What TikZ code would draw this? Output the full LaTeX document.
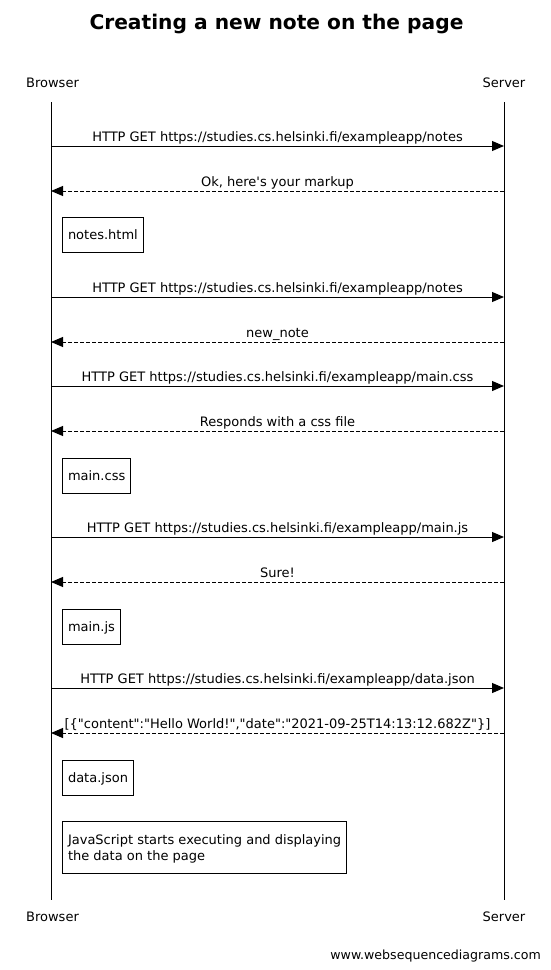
\documentclass[tikz,border=0pt]{standalone}
\usepackage{fontspec}
\setmainfont{DejaVu Sans}
\usetikzlibrary{arrows.meta}
\tikzset{
  lbl/.style={font=\fontsize{13}{16}\selectfont},
  actor/.style={lbl,anchor=base},
  msgtext/.style={lbl,anchor=base,midway,yshift=4.5pt,inner sep=0pt},
  lifeline/.style={line width=1pt},
  call/.style={line width=1pt,-{Triangle[length=12pt,width=10pt]}},
  reply/.style={call,dash pattern=on 4pt off 2pt},
  notebox/.style={lbl,draw,line width=1pt,anchor=north west,align=left,inner xsep=5.5pt,inner ysep=12.75pt,text height=9.5pt,text depth=0pt}
}

\begin{document}
\begin{tikzpicture}[x=1pt,y=-1pt]
  \useasboundingbox (0,0) rectangle (550,970);
  \node[anchor=base,font=\bfseries\fontsize{20.2}{24}\selectfont] (title) at (276.5,29.5) {Creating a new note on the page};
  \node[actor] (browsertop) at (52.5,87.5) {Browser};
  \node[actor] (servertop) at (504,87.5) {Server};
  \node[actor] (browserbot) at (52.5,921.5) {Browser};
  \node[actor] (serverbot) at (504,921.5) {Server};
  \coordinate (browserstart) at (51,102);
  \coordinate (browserend) at (51,900);
  \coordinate (serverstart) at (504,102);
  \coordinate (serverend) at (504,900);
  \draw[lifeline] (browserstart) -- (browserend);
  \draw[lifeline] (serverstart) -- (serverend);
  \foreach \i/\yy/\txt in {
    1/146/{HTTP GET https://studies.cs.helsinki.fi/exampleapp/notes},
    2/297/{HTTP GET https://studies.cs.helsinki.fi/exampleapp/notes},
    3/386/{HTTP GET https://studies.cs.helsinki.fi/exampleapp/main.css},
    4/537/{HTTP GET https://studies.cs.helsinki.fi/exampleapp/main.js},
    5/688/{HTTP GET https://studies.cs.helsinki.fi/exampleapp/data.json}} {
      \coordinate (callb\i) at (51,\yy);
      \coordinate (calls\i) at (504,\yy);
      \draw[call] (callb\i) -- (calls\i) node[msgtext] (calltext\i) {\txt};
  }
  \foreach \i/\yy/\txt in {
    1/191/{Ok, here\textquotesingle s your markup},
    2/342/{new\_note},
    3/431/{Responds with a css file},
    4/582/{Sure!},
    5/733/{[\{\textquotedbl content\textquotedbl:\textquotedbl Hello World!\textquotedbl,\textquotedbl date\textquotedbl:\textquotedbl 2021-09-25T14:13:12.682Z\textquotedbl\}]}} {
      \coordinate (replys\i) at (504,\yy);
      \coordinate (replyb\i) at (51,\yy);
      \draw[reply] (replys\i) -- (replyb\i) node[msgtext] (replytext\i) {\txt};
  }
  \foreach \i/\yy/\txt in {1/217/notes.html, 2/458/main.css, 3/609/main.js, 4/760/data.json}
    \node[notebox] (note\i) at (62,\yy) {\txt};
  \node[notebox,inner ysep=13pt,text height=25.5pt] (note5) at (62,821) {JavaScript starts executing and displaying\\the data on the page};
  \node[anchor=base east,inner sep=0pt,font=\fontsize{12.6}{16}\selectfont] (footer) at (541,959) {www.websequencediagrams.com};
\end{tikzpicture}
\end{document}
